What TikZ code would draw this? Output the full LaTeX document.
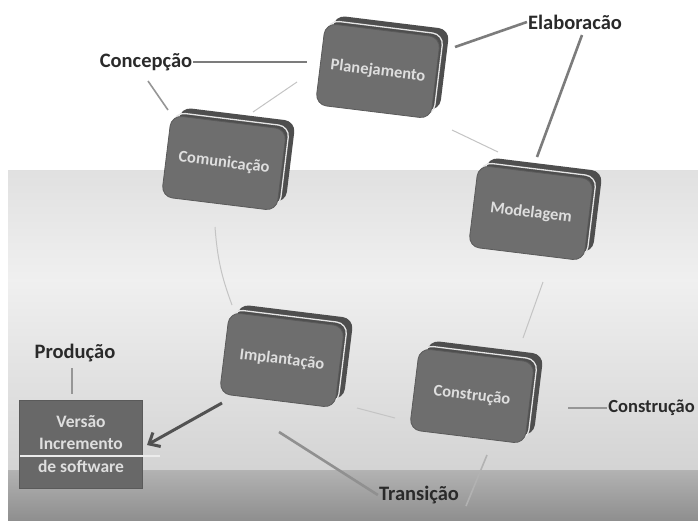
\documentclass[tikz,border=0pt]{standalone}
\usepackage{fontspec}
\setmainfont{Carlito}
\usetikzlibrary{arrows.meta}
\definecolor{boxface}{HTML}{6E6E6E}
\definecolor{boxedge}{HTML}{5A5A5A}
\definecolor{boxback}{HTML}{4E4E4E}
\definecolor{rimcol}{HTML}{E6E6E6}
\definecolor{boxtext}{HTML}{DEDEDE}
\definecolor{lblcol}{HTML}{2A2A2A}
\definecolor{leadcol}{HTML}{7C7C7C}
\definecolor{cyccol}{HTML}{C4C4C4}
\begin{document}
\begin{tikzpicture}[x=1pt,y=-1pt,
  slab/.style={rounded corners=11pt, minimum width=116pt, minimum height=82pt, rotate=-7, inner sep=0pt},
  face/.style={slab, fill=boxface, draw=boxedge, line width=0.8pt, text=boxtext, font=\bfseries\fontsize{16.5}{18}\selectfont},
  backplate/.style={slab, fill=boxback},
  rim/.style={slab, draw=rimcol, line width=1.3pt},
  lbl/.style={font=\bfseries\fontsize{20.5}{22}\selectfont, text=lblcol, inner sep=1pt},
  lead/.style={draw=leadcol, line width=2.6pt},
  thinlead/.style={draw=leadcol!80!white, line width=1.6pt},
  cyc/.style={draw=cyccol, line width=1pt},
  versbox/.style={fill=boxface!95!black, draw=boxedge, line width=0.8pt, minimum width=123pt, minimum height=88pt, text=boxtext, align=center, font=\bfseries\fontsize{17.5}{22.5}\selectfont, inner sep=0pt},
]
\clip (0,0) rectangle (698,520);
\useasboundingbox (0,0) rectangle (698,520);
% background
\fill[white] (0,0) rectangle (698,520);
\shade[top color=black!12, bottom color=black!6] (8,170) rectangle (698,280);
\shade[top color=black!6, bottom color=black!17] (8,280) rectangle (698,470);
\shade[top color=black!30, bottom color=black!44] (8,470) rectangle (698,520);

% boxes
\foreach \nm/\cx/\cy in {plan/378/71, com/224/163, mod/531/213, imp/282/360, con/472/396}{
  \node[backplate] (\nm B) at (\cx+9,\cy-8) {};
  \node[rim] (\nm R) at (\cx+3,\cy-3) {};
}
\node[face] (plan) at (378,71) {Planejamento};
\node[face] (com) at (224,163) {Comunicação};
\node[face] (mod) at (531,213) {Modelagem};
\node[face] (imp) at (282,360) {Implantação};
\node[face] (con) at (472,396) {Construção};

\node[versbox] (vers) at (81,444) {Versão\\Incremento\\de software};
\draw[white!85!gray, line width=1.5pt] (20,456) -- (160,456);

% labels
\node[lbl] (concep) at (146,62) {Concepção};
\node[lbl] (elab) at (575,22) {Elaboracão};
\node[lbl] (prod) at (75,353) {Produção};
\node[lbl, anchor=east, font=\bfseries\fontsize{18.5}{20}\selectfont] (constrR) at (696,408) {Construção};
\node[lbl] (trans) at (419,495) {Transição};

% coordinates for lead ends
\coordinate (c1) at (307,62);
\coordinate (c2) at (148,81);
\coordinate (c3) at (168,110);
\coordinate (e1) at (455,47);
\coordinate (e2) at (582,35);
\coordinate (e3) at (537,157);
\coordinate (p1) at (72,368);
\coordinate (p2) at (72,394);
\coordinate (cr1) at (568,408);
\coordinate (t1) at (279,432);
\coordinate (t2) at (487,455);
\coordinate (t3) at (466,506);
\coordinate (a1) at (222,403);
\coordinate (a2) at (147,445);

% leads
\draw[lead] (concep.east) -- (c1);
\draw[thinlead] (c2) -- (c3);
\draw[lead] (e1) -- (elab.west);
\draw[lead] (e2) -- (e3);
\draw[thinlead] (p1) -- (p2);
\draw[thinlead] (cr1) -- (constrR.west);
\draw[lead, draw=leadcol!85!white] (t1) -- (trans.west);
\draw[thinlead, draw=black!30] (t2) -- (t3);
\draw[draw=black!68, line width=3pt, -{Straight Barb[length=9pt,width=16pt,line width=3pt]}] (a1) -- (a2);

% cycle connectors
\coordinate (k1) at (253,112); \coordinate (k2) at (297,82);
\coordinate (k3) at (452,130); \coordinate (k4) at (498,152);
\coordinate (k5) at (543,282); \coordinate (k6) at (523,338);
\coordinate (k7) at (395,418); \coordinate (k8) at (357,408);
\coordinate (k9) at (215,227); \coordinate (k10) at (232,305);
\draw[cyc] (k1) -- (k2);
\draw[cyc] (k3) -- (k4);
\draw[cyc] (k5) -- (k6);
\draw[cyc] (k7) -- (k8);
\draw[cyc] (k9) to[bend right=8] (k10);
\end{tikzpicture}
\end{document}
